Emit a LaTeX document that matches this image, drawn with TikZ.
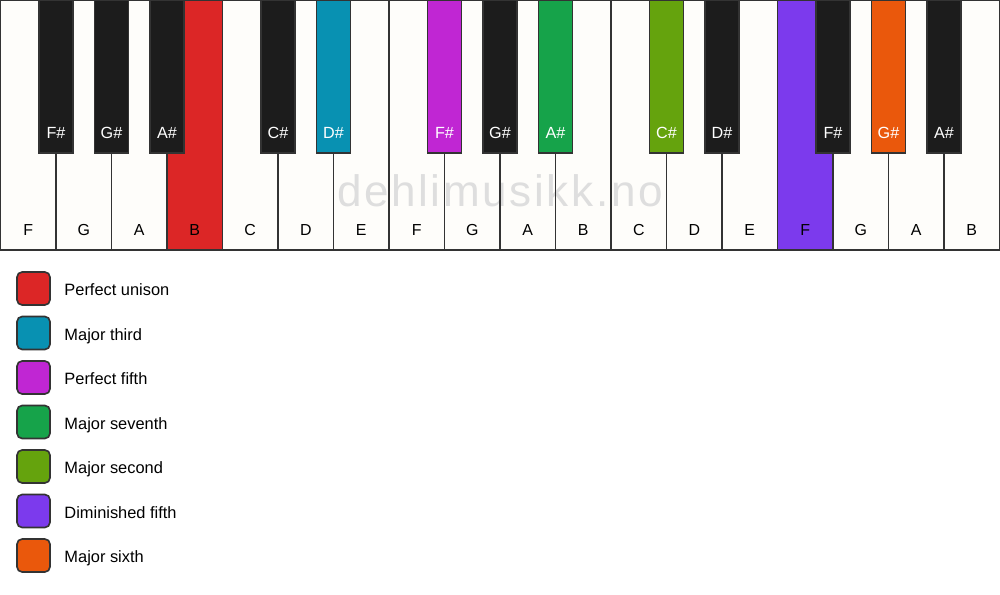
\documentclass[tikz,border=0pt]{standalone}
\usepackage{fontspec}
\setmainfont{Liberation Sans}
\definecolor{keywhite}{HTML}{FEFDFA}
\definecolor{keyblack}{HTML}{1C1C1C}
\definecolor{keyline}{HTML}{333333}
\definecolor{unison}{HTML}{DC2626}
\definecolor{third}{HTML}{0891B2}
\definecolor{fifth}{HTML}{C026D3}
\definecolor{seventh}{HTML}{16A34A}
\definecolor{second}{HTML}{65A30D}
\definecolor{dimfifth}{HTML}{7C3AED}
\definecolor{sixth}{HTML}{EA580C}
\definecolor{wmark}{HTML}{DEDEDE}
\tikzset{
  wkey/.style={draw=keyline, line width=0.7pt},
  bkey/.style={draw=keyline, line width=0.7pt, fill=keyblack},
  wname/.style={anchor=base, text=black, font=\fontsize{6.8}{8}\selectfont},
  bname/.style={anchor=base, text=white, font=\fontsize{6.9}{8}\selectfont},
  swatch/.style={draw=keyline, line width=0.7pt, rounded corners=2.2pt},
  legendtext/.style={anchor=base west, text=black, font=\fontsize{7}{8}\selectfont}
}
\begin{document}
\begin{tikzpicture}[scale=0.15]
\tikzstyle{every node}+=[inner sep=0pt]
\useasboundingbox [fill=white] (0,0) rectangle (100,-59.4);
% white keys, fills first
\fill [keywhite] (0.05,0) rectangle (99.95,-25);
\fill [unison] (16.7,0) rectangle (22.25,-25);
\fill [dimfifth] (77.75,0) rectangle (83.3,-25);
\node (wm) [anchor=base, text=wmark, font=\fontsize{18.8}{20}\selectfont\addfontfeature{LetterSpace=6}] at (50,-20.6) {dehlimusikk.no};
% white key outlines
\draw [wkey] (0.05,0) rectangle (5.6,-25);
\draw [wkey] (5.6,0) rectangle (11.15,-25);
\draw [wkey] (11.15,0) rectangle (16.7,-25);
\draw [wkey] (16.7,0) rectangle (22.25,-25);
\draw [wkey] (22.25,0) rectangle (27.8,-25);
\draw [wkey] (27.8,0) rectangle (33.35,-25);
\draw [wkey] (33.35,0) rectangle (38.9,-25);
\draw [wkey] (38.9,0) rectangle (44.45,-25);
\draw [wkey] (44.45,0) rectangle (50.0,-25);
\draw [wkey] (50.0,0) rectangle (55.55,-25);
\draw [wkey] (55.55,0) rectangle (61.1,-25);
\draw [wkey] (61.1,0) rectangle (66.65,-25);
\draw [wkey] (66.65,0) rectangle (72.2,-25);
\draw [wkey] (72.2,0) rectangle (77.75,-25);
\draw [wkey] (77.75,0) rectangle (83.3,-25);
\draw [wkey] (83.3,0) rectangle (88.85,-25);
\draw [wkey] (88.85,0) rectangle (94.4,-25);
\draw [wkey] (94.4,0) rectangle (99.95,-25);
\node (f1) [wname] at (2.825,-23.55) {F};
\node (g1) [wname] at (8.375,-23.55) {G};
\node (a1) [wname] at (13.925,-23.55) {A};
\node (b1) [wname] at (19.475,-23.55) {B};
\node (c1) [wname] at (25.025,-23.55) {C};
\node (d1) [wname] at (30.575,-23.55) {D};
\node (e1) [wname] at (36.125,-23.55) {E};
\node (f2) [wname] at (41.675,-23.55) {F};
\node (g2) [wname] at (47.225,-23.55) {G};
\node (a2) [wname] at (52.775,-23.55) {A};
\node (b2) [wname] at (58.325,-23.55) {B};
\node (c2) [wname] at (63.875,-23.55) {C};
\node (d2) [wname] at (69.425,-23.55) {D};
\node (e2) [wname] at (74.975,-23.55) {E};
\node (f3) [wname] at (80.525,-23.55) {F};
\node (g3) [wname] at (86.075,-23.55) {G};
\node (a3) [wname] at (91.625,-23.55) {A};
\node (b3) [wname] at (97.175,-23.55) {B};
% black keys
\draw [bkey] (3.9,0) rectangle (7.3,-15.3);
\draw [bkey] (9.45,0) rectangle (12.85,-15.3);
\draw [bkey] (15.0,0) rectangle (18.4,-15.3);
\draw [bkey] (26.1,0) rectangle (29.5,-15.3);
\draw [bkey, fill=third] (31.65,0) rectangle (35.05,-15.3);
\draw [bkey, fill=fifth] (42.75,0) rectangle (46.15,-15.3);
\draw [bkey] (48.3,0) rectangle (51.7,-15.3);
\draw [bkey, fill=seventh] (53.85,0) rectangle (57.25,-15.3);
\draw [bkey, fill=second] (64.95,0) rectangle (68.35,-15.3);
\draw [bkey] (70.5,0) rectangle (73.9,-15.3);
\draw [bkey] (81.6,0) rectangle (85.0,-15.3);
\draw [bkey, fill=sixth] (87.15,0) rectangle (90.55,-15.3);
\draw [bkey] (92.7,0) rectangle (96.1,-15.3);
\node (fs1) [bname] at (5.6,-13.85) {F\#};
\node (gs1) [bname] at (11.15,-13.85) {G\#};
\node (as1) [bname] at (16.7,-13.85) {A\#};
\node (cs1) [bname] at (27.8,-13.85) {C\#};
\node (ds1) [bname] at (33.35,-13.85) {D\#};
\node (fs2) [bname] at (44.45,-13.85) {F\#};
\node (gs2) [bname] at (50.0,-13.85) {G\#};
\node (as2) [bname] at (55.55,-13.85) {A\#};
\node (cs2) [bname] at (66.65,-13.85) {C\#};
\node (ds2) [bname] at (72.2,-13.85) {D\#};
\node (fs3) [bname] at (83.3,-13.85) {F\#};
\node (gs3) [bname] at (88.85,-13.85) {G\#};
\node (as3) [bname] at (94.4,-13.85) {A\#};
% legend
\draw [swatch, fill=unison] (1.7,-27.2) rectangle (5.0,-30.5);
\node (lunison) [legendtext] at (6.4,-29.55) {Perfect unison};
\draw [swatch, fill=third] (1.7,-31.65) rectangle (5.0,-34.95);
\node (lthird) [legendtext] at (6.4,-34.0) {Major third};
\draw [swatch, fill=fifth] (1.7,-36.1) rectangle (5.0,-39.4);
\node (lfifth) [legendtext] at (6.4,-38.45) {Perfect fifth};
\draw [swatch, fill=seventh] (1.7,-40.55) rectangle (5.0,-43.85);
\node (lseventh) [legendtext] at (6.4,-42.9) {Major seventh};
\draw [swatch, fill=second] (1.7,-45.0) rectangle (5.0,-48.3);
\node (lsecond) [legendtext] at (6.4,-47.35) {Major second};
\draw [swatch, fill=dimfifth] (1.7,-49.45) rectangle (5.0,-52.75);
\node (ldimfifth) [legendtext] at (6.4,-51.8) {Diminished fifth};
\draw [swatch, fill=sixth] (1.7,-53.9) rectangle (5.0,-57.2);
\node (lsixth) [legendtext] at (6.4,-56.25) {Major sixth};
\end{tikzpicture}
\end{document}
